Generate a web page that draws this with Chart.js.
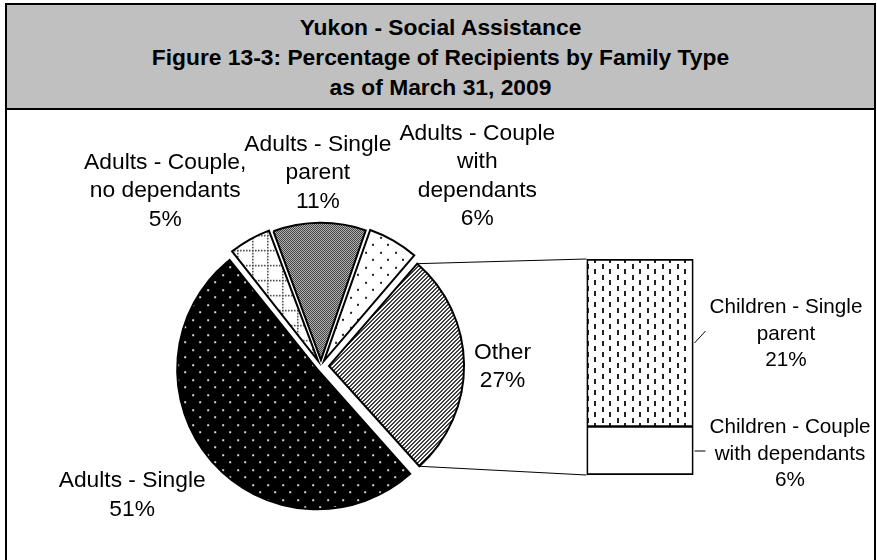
<!DOCTYPE html>
<html>
<head>
<meta charset="utf-8">
<script src="https://cdn.jsdelivr.net/npm/chart.js@4.4.1/dist/chart.umd.min.js"></script>
<style>
  html, body { margin:0; padding:0; background:#fff; }
  body { width:877px; height:560px; overflow:hidden; position:relative; font-family:"Liberation Sans", Arial, sans-serif; }
  #frame { position:absolute; left:5px; top:3px; width:867px; height:640px; border:2px solid #000; }
  #header { box-sizing:border-box; height:105px; padding-top:7px; background:#c0c0c0; border-bottom:2px solid #000;
            text-align:center; font-weight:bold; font-size:22.8px; line-height:30px; color:#000; }
  canvas { position:absolute; left:0; top:0; }
</style>
</head>
<body>
<div id="frame">
  <div id="header">Yukon - Social Assistance<br>Figure 13-3: Percentage of Recipients by Family Type<br>as of March 31, 2009</div>
</div>
<canvas id="pie" width="877" height="560"></canvas>
<canvas id="bar" width="877" height="560"></canvas>
<script>
// data
const pieCategories = ['Adults - Single', 'Adults - Couple, no dependants', 'Adults - Single parent', 'Adults - Couple with dependants', 'Other'];
const pieValues     = [51, 5, 11, 6, 27];
const barCategories = ['Children - Single parent', 'Children - Couple with dependants'];
const barValues     = [21, 6];

// style
const FONT      = '"Liberation Sans", Arial, sans-serif';
const pieFont   = 22.8;
const pieLine   = 28.5;
const pieWrap   = [170, 170, 170, 160, 170];
const pieOffsets = [20, 24, 24, 24, 32];
const labelGap  = [6, 10, 10, 12, 10];
const barFont   = 20.7;
const barLine   = 26.3;
const barWrap   = 165;
const barLabelShift = [-12, 0];
const textNudge = 3;   // canvas 'middle' sits a little high

function tile(w, h, bg, draw) {
    const c = document.createElement('canvas');
    c.width = w; c.height = h;
    const g = c.getContext('2d');
    g.fillStyle = bg; g.fillRect(0, 0, w, h);
    draw(g);
    return g.createPattern(c, 'repeat');
}

const dotsOnBlack = tile(15, 15, '#000', g => { g.fillStyle = '#d8d8d8'; g.fillRect(1, 1, 2, 2); g.fillRect(8, 8, 2, 2); });
const dottedGrid  = tile(15, 15, '#fff', g => {
    g.fillStyle = '#333';
    for (let i = 0; i < 15; i += 3) { g.fillRect(i, 0, 1.5, 1.5); g.fillRect(0, i, 1.5, 1.5); }
});
const checker     = tile(2, 2, '#c0c0c0', g => { g.fillStyle = '#383838'; g.fillRect(0, 0, 1, 1); g.fillRect(1, 1, 1, 1); });
const sparseDots  = tile(15, 15, '#fff', g => { g.fillStyle = '#222'; g.fillRect(2, 2, 2, 2); g.fillRect(9, 9, 2, 2); });
const stripes     = tile(4, 4, '#fff', g => {
    g.fillStyle = '#3a3a3a';
    for (let y = 0; y < 4; y++) { g.fillRect((3 - y + 4) % 4, y, 1, 1); g.fillRect((4 - y) % 4, y, 1, 1); }
});
const dashes      = tile(15, 11, '#fff', g => { g.fillStyle = '#222'; g.fillRect(2, 0, 2, 5); g.fillRect(9, 5, 2, 5); });

const pieFills = [dotsOnBlack, dottedGrid, checker, sparseDots, stripes];
const barFills = [dashes, '#fff'];

function wrap(ctx, text, maxW) {
    const lines = [];
    let cur = '';
    text.split(' ').forEach(w => {
        const t = cur ? cur + ' ' + w : w;
        if (cur && ctx.measureText(t).width > maxW) { lines.push(cur); cur = w; }
        else cur = t;
    });
    if (cur) lines.push(cur);
    return lines;
}

const clamp = v => Math.max(-1, Math.min(1, v));

// where chart.js actually puts an exploded arc
function arcGeom(arc) {
    const t    = (arc.options.offset || 0) / 4;
    const circ = arc.endAngle - arc.startAngle;
    const fix  = 1 - Math.sin(Math.min(Math.PI, circ));
    const mid  = (arc.startAngle + arc.endAngle) / 2;
    return {
        mid, start: arc.startAngle, end: arc.endAngle,
        cx: arc.x + Math.cos(mid) * t,
        cy: arc.y + Math.sin(mid) * t,
        r : arc.outerRadius + t * fix
    };
}

function drawBlock(ctx, lines, cx, cy, lh) {
    const h = lines.length * lh;
    lines.forEach((l, j) => ctx.fillText(l, cx, cy - h / 2 + (j + 0.5) * lh + textNudge));
}

const pieLabels = {
    id: 'pieLabels',
    afterDatasetsDraw(chart) {
        const ctx = chart.ctx;
        ctx.save();
        ctx.font = pieFont + 'px ' + FONT;
        ctx.fillStyle = '#000';
        ctx.textAlign = 'center';
        ctx.textBaseline = 'middle';
        chart.getDatasetMeta(0).data.forEach((arc, i) => {
            const g = arcGeom(arc);
            const lines = wrap(ctx, pieCategories[i], pieWrap[i]).concat(pieValues[i] + '%');
            const w = Math.max(...lines.map(l => ctx.measureText(l).width));
            const h = lines.length * pieLine;
            const dx = Math.cos(g.mid), dy = Math.sin(g.mid);
            const ax = g.cx + dx * (g.r + labelGap[i]);
            const ay = g.cy + dy * (g.r + labelGap[i]);
            drawBlock(ctx, lines, ax + clamp(dx * 2) * w / 2, ay + clamp(dy * 2) * h / 2, pieLine);
        });
        ctx.restore();
    }
};

const pieChart = new Chart(document.getElementById('pie'), {
    type: 'pie',
    data: {
        labels: pieCategories,
        datasets: [{
            data: pieValues,
            backgroundColor: pieFills,
            borderColor: '#000',
            borderWidth: 2,
            borderJoinStyle: 'miter',
            offset: pieOffsets,
            radius: 135,
            rotation: 138,
            clip: false
        }]
    },
    options: {
        responsive: false,
        animation: false,
        events: [],
        layout: { padding: { left: 161, right: 396, top: 206, bottom: 34 } },
        plugins: { legend: { display: false }, tooltip: { enabled: false } }
    },
    plugins: [pieLabels]
});

const barExtras = {
    id: 'barExtras',
    beforeDatasetsDraw(chart) {
        // connector lines from the "Other" slice to the bar
        const ctx = chart.ctx;
        const arc = pieChart.getDatasetMeta(0).data[pieValues.length - 1];
        const g = arcGeom(arc);
        const a = chart.chartArea;
        ctx.save();
        ctx.strokeStyle = '#000';
        ctx.lineWidth = 1;
        ctx.beginPath();
        ctx.moveTo(g.cx + g.r * Math.cos(g.start), g.cy + g.r * Math.sin(g.start));
        ctx.lineTo(a.left, a.top);
        ctx.moveTo(g.cx + g.r * Math.cos(g.end), g.cy + g.r * Math.sin(g.end));
        ctx.lineTo(a.left, a.bottom);
        ctx.stroke();
        ctx.restore();
    },
    afterDatasetsDraw(chart) {
        const ctx = chart.ctx;
        ctx.save();
        ctx.font = barFont + 'px ' + FONT;
        ctx.fillStyle = '#000';
        ctx.strokeStyle = '#000';
        ctx.lineWidth = 1;
        ctx.textAlign = 'center';
        ctx.textBaseline = 'middle';
        barCategories.forEach((name, i) => {
            const ds = chart.data.datasets.findIndex(d => d.label === name);
            const bar = chart.getDatasetMeta(ds).data[0];
            const right = bar.x + bar.width / 2;
            const segMid = (bar.y + bar.base) / 2;
            const lines = wrap(ctx, name, barWrap).concat(barValues[i] + '%');
            const w = Math.max(...lines.map(l => ctx.measureText(l).width));
            const left = right + 16;
            const cy = segMid + barLabelShift[i];
            ctx.beginPath();
            ctx.moveTo(right + 1, segMid);
            ctx.lineTo(left - 4, cy);
            ctx.stroke();
            drawBlock(ctx, lines, left + w / 2, cy, barLine);
        });
        ctx.restore();
    }
};

new Chart(document.getElementById('bar'), {
    type: 'bar',
    data: {
        labels: ['Other'],
        datasets: barCategories.map((name, i) => ({
            label: name,
            data: [barValues[i]],
            backgroundColor: barFills[i],
            borderColor: '#000',
            borderWidth: i === 0 ? 2 : { top: 1, left: 2, right: 2, bottom: 2 },
            borderSkipped: false,
            categoryPercentage: 1,
            barPercentage: 1
        })).reverse()
    },
    options: {
        responsive: false,
        animation: false,
        events: [],
        layout: { padding: { left: 586.5, right: 183.5, top: 259, bottom: 85 } },
        scales: {
            x: { display: false, stacked: true },
            y: { display: false, stacked: true, min: 0, max: barValues.reduce((s, v) => s + v, 0) }
        },
        plugins: { legend: { display: false }, tooltip: { enabled: false } }
    },
    plugins: [barExtras]
});
</script>
</body>
</html>
